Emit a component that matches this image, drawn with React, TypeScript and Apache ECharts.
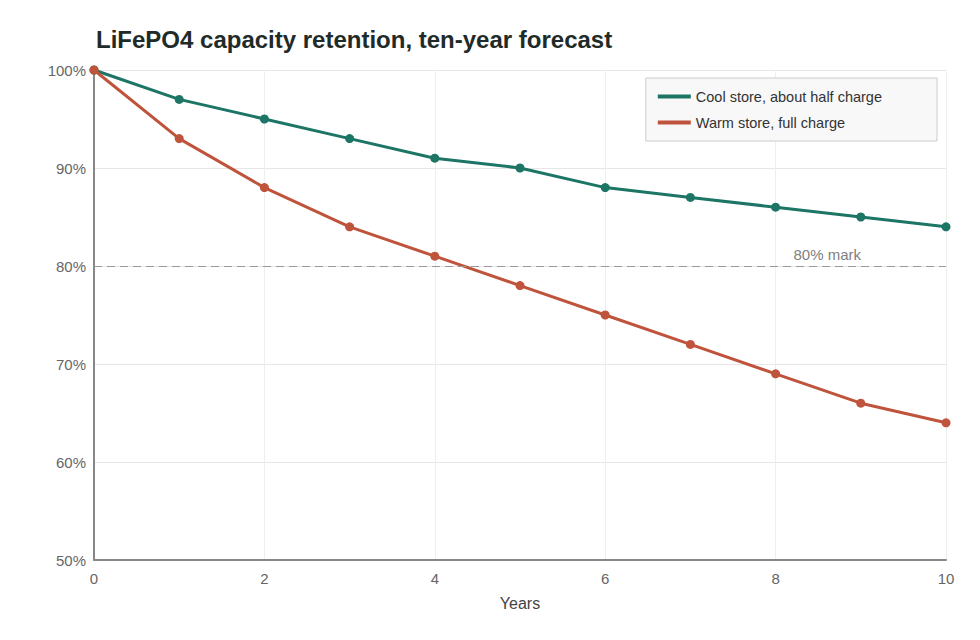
import React, { useEffect, useRef } from "react";
import * as echarts from "echarts";

// Years since cell manufacture
const years = [0, 1, 2, 3, 4, 5, 6, 7, 8, 9, 10];
// Remaining capacity (% of initial) under two storage conditions
const coolHalfCharge = [100, 97, 95, 93, 91, 90, 88, 87, 86, 85, 84];
const warmFullCharge = [100, 93, 88, 84, 81, 78, 75, 72, 69, 66, 64];
const seriesNames = ["Cool store, about half charge", "Warm store, full charge"];
const thresholdValue = 80;
const thresholdLabel = "80% mark";

const FONT = "'Liberation Sans', Arial, Helvetica, sans-serif";

export default function App() {
  const ref = useRef<HTMLDivElement>(null);

  useEffect(() => {
    if (!ref.current) return;
    const chart = echarts.init(ref.current, undefined, { renderer: "svg" });
    const pair = (ys: number[]) => years.map((x, i) => [x, ys[i]]);

    chart.setOption({
      animation: false,
      backgroundColor: "#ffffff",
      textStyle: { fontFamily: FONT },
      title: {
        text: "LiFePO4 capacity retention, ten-year forecast",
        left: 91,
        top: 22,
        textStyle: { fontFamily: FONT, fontSize: 24, fontWeight: "bold", color: "#1f2b28" },
      },
      legend: {
        right: 43,
        top: 78,
        orient: "vertical",
        backgroundColor: "#f8f8f8",
        borderColor: "#cccccc",
        borderWidth: 1,
        borderRadius: 0,
        padding: [11, 55, 11, 12],
        itemGap: 11,
        itemWidth: 33,
        itemHeight: 4,
        icon: "rect",
        textStyle: { fontFamily: FONT, fontSize: 14.5, color: "#333333" },
        data: seriesNames,
      },
      grid: { left: 94, right: 34, top: 70, bottom: 80 },
      xAxis: {
        type: "value",
        min: 0,
        max: 10,
        interval: 2,
        name: "Years",
        nameLocation: "middle",
        nameGap: 35,
        nameTextStyle: { fontFamily: FONT, fontSize: 16, color: "#444444" },
        axisLine: { lineStyle: { color: "#888888", width: 2 } },
        axisTick: { show: false },
        axisLabel: { fontFamily: FONT, fontSize: 15, color: "#666666", margin: 11 },
        splitLine: { show: true, lineStyle: { color: "#eeeeee", width: 1 } },
      },
      yAxis: {
        type: "value",
        min: 50,
        max: 100,
        interval: 10,
        axisLine: { show: true, lineStyle: { color: "#888888", width: 2 } },
        axisTick: { show: false },
        axisLabel: {
          fontFamily: FONT,
          fontSize: 15,
          color: "#666666",
          margin: 8,
          formatter: (v: number) => `${v}%`,
        },
        splitLine: { show: true, lineStyle: { color: "#e6e6e6", width: 1 } },
      },
      series: [
        {
          name: seriesNames[0],
          type: "line",
          data: pair(coolHalfCharge),
          symbol: "circle",
          symbolSize: 9,
          color: "#1c7565",
          lineStyle: { width: 3, color: "#1c7565" },
          itemStyle: { color: "#1c7565" },
          z: 3,
          markLine: {
            silent: true,
            symbol: "none",
            lineStyle: { type: [8, 5], color: "#999999", width: 1 },
            label: {
              position: "insideEndTop",
              formatter: thresholdLabel,
              fontFamily: FONT,
              fontSize: 15,
              color: "#808080",
              distance: [85, 4],
            },
            data: [{ yAxis: thresholdValue }],
          },
        },
        {
          name: seriesNames[1],
          type: "line",
          data: pair(warmFullCharge),
          symbol: "circle",
          symbolSize: 9,
          color: "#bf533b",
          lineStyle: { width: 3, color: "#bf533b" },
          itemStyle: { color: "#bf533b" },
          z: 4,
        },
      ],
    });

    return () => chart.dispose();
  }, []);

  return (
    <div
      ref={ref}
      style={{ position: "fixed", left: 0, top: 0, width: 980, height: 640 }}
    />
  );
}
